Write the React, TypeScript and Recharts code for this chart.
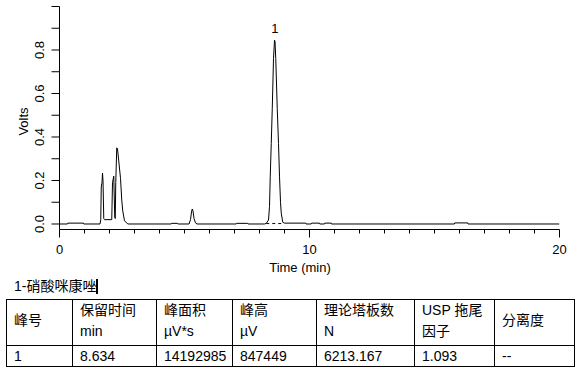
import { Line, LineChart, ReferenceDot, XAxis, YAxis } from 'recharts';

// chromatogram trace
const times = [
  0, 0.32, 0.33, 0.96, 0.97, 1.62, 1.65, 1.67, 1.7, 1.72, 1.74, 1.77, 1.8, 2.09,
  2.12, 2.17, 2.21, 2.23, 2.25, 2.29, 2.32, 2.37, 2.44, 2.49, 2.53, 2.6, 2.73,
  4.47, 4.48, 4.72, 4.73, 5.18, 5.24, 5.28, 5.31, 5.34, 5.38, 5.44, 5.5,
  7.07, 7.08, 7.53, 7.54, 8.2, 8.27, 8.36, 8.4, 8.43, 8.47, 8.51, 8.56, 8.6,
  8.62, 8.65, 8.71, 8.76, 8.8, 8.84, 8.87, 8.93, 9.0, 9.85, 9.86, 10.07, 10.08,
  10.4, 10.41, 10.6, 10.61, 10.87, 10.88, 15.8, 15.81, 16.33, 16.34, 20,
];
const volts = [
  0, 0, 0.004, 0.004, 0, 0, 0.02, 0.17, 0.19, 0.234, 0.2, 0.025, 0.02, 0.02,
  0.19, 0.22, 0.03, 0.025, 0.19, 0.35, 0.345, 0.29, 0.21, 0.11, 0.06, 0.015, 0,
  0, 0.003, 0.003, 0, 0, 0.02, 0.055, 0.069, 0.06, 0.025, 0.005, 0,
  0, 0.003, 0.003, 0, 0, 0.003, 0.018, 0.08, 0.22, 0.37, 0.53, 0.76, 0.845,
  0.84, 0.76, 0.53, 0.37, 0.22, 0.1, 0.05, 0.008, 0.004, 0.004, 0, 0, 0.004,
  0.004, 0, 0, 0.004, 0.004, 0, 0, 0.005, 0.005, 0, 0,
];

// integration baseline drawn under peak 1
const baseTimes = [8.27, 8.97];
const baseVolts = [0.002, 0.002];

const peakNames = ['1'];
const peakTimes = [8.61];
const peakHeights = [0.845];

const xTicks = [0, 1, 2, 3, 4, 5, 6, 7, 8, 9, 10, 11, 12, 13, 14, 15, 16, 17, 18, 19, 20];
const yTicks = [0, 0.1, 0.2, 0.3, 0.4, 0.5, 0.6, 0.7, 0.8, 0.9, 1.0];

const compoundTitle = '1-硝酸咪康唑';
const headerTop = ['峰号', '保留时间', '峰面积', '峰高', '理论塔板数', 'USP 拖尾', '分离度'];
const headerUnit = ['', 'min', 'µV*s', 'µV', 'N', '因子', ''];
const peakRow = ['1', '8.634', '14192985', '847449', '6213.167', '1.093', '--'];

const trace = times.map((t, i) => ({ t, v: volts[i] }));
const baseline = baseTimes.map((t, i) => ({ t, v: baseVolts[i] }));

const FONT = '"Liberation Sans", Arial, "Noto Sans CJK SC", sans-serif';

function TimeTick({ x, y, payload }: any) {
  const major = payload.value % 10 === 0;
  return (
    <g>
      <line x1={x} y1={y} x2={x} y2={y + (major ? 8 : 4)} stroke="#000" />
      {major && (
        <text x={x} y={y + 24} textAnchor="middle" fontSize={13} fill="#000">
          {payload.value}
        </text>
      )}
    </g>
  );
}

function VoltTick({ x, y, payload }: any) {
  const v = payload.value;
  const labelled = Math.round(v * 10) % 2 === 0 && v < 0.95;
  return (
    <g>
      <line x1={x - 8} y1={y} x2={x} y2={y} stroke="#000" />
      {labelled && (
        <text
          x={x - 15}
          y={y}
          textAnchor="middle"
          fontSize={13}
          fill="#000"
          transform={`rotate(-90, ${x - 15}, ${y})`}
        >
          {v.toFixed(1)}
        </text>
      )}
    </g>
  );
}

const cell: React.CSSProperties = {
  border: '1px solid #000',
  padding: '0 0 0 7px',
  fontSize: 14,
  lineHeight: '21px',
  verticalAlign: 'top',
  whiteSpace: 'nowrap',
  textAlign: 'left',
};

export default function App() {
  const colWidths = [66, 84, 76, 84, 98, 80, 80];
  return (
    <div style={{ position: 'absolute', left: 0, top: 0, width: 587, height: 379, background: '#fff', fontFamily: FONT }}>
      <LineChart
        width={587}
        height={275}
        data={trace}
        margin={{ top: 6.5, right: 27.5, bottom: 0.5, left: 0 }}
        style={{ fontFamily: FONT }}
      >
        <XAxis
          dataKey="t"
          type="number"
          domain={[0, 20]}
          ticks={xTicks}
          interval={0}
          allowDataOverflow
          height={45}
          tickSize={0}
          tickMargin={0}
          tickLine={false}
          axisLine={{ stroke: '#000' }}
          tick={<TimeTick />}
          label={{
            content: ({ viewBox }: any) => (
              <text x={viewBox.x + viewBox.width / 2 - 9.5} y={viewBox.y + 42} textAnchor="middle" fontSize={13} fill="#000">
                Time (min)
              </text>
            ),
          }}
        />
        <YAxis
          type="number"
          domain={[-0.0253, 1]}
          ticks={yTicks}
          interval={0}
          allowDataOverflow
          width={59.5}
          tickSize={0}
          tickMargin={0}
          tickLine={false}
          axisLine={{ stroke: '#000' }}
          tick={<VoltTick />}
          label={{
            content: ({ viewBox }: any) => {
              const cx = 28;
              const cy = viewBox.y + viewBox.height / 2 + 3.5;
              return (
                <text x={cx} y={cy} textAnchor="middle" fontSize={13} fill="#000" transform={`rotate(-90, ${cx}, ${cy})`}>
                  Volts
                </text>
              );
            },
          }}
        />
        <Line dataKey="v" stroke="#000" strokeWidth={1} dot={false} type="linear" isAnimationActive={false} />
        <Line
          data={baseline}
          dataKey="v"
          stroke="#000"
          strokeWidth={1}
          strokeDasharray="3 3"
          dot={false}
          type="linear"
          isAnimationActive={false}
        />
        {peakNames.map((name, i) => (
          <ReferenceDot
            key={name}
            x={peakTimes[i]}
            y={peakHeights[i]}
            r={0}
            stroke="none"
            fill="none"
            label={{ value: name, position: 'top', offset: 7, fontSize: 13, fill: '#000' }}
          />
        ))}
      </LineChart>

      <div style={{ position: 'absolute', left: 14, top: 278, fontSize: 14, lineHeight: '16px', whiteSpace: 'nowrap' }}>
        {compoundTitle}
        <span style={{ display: 'inline-block', width: 2, height: 15, background: '#000', verticalAlign: -3, marginLeft: 0 }} />
      </div>

      <table
        style={{
          position: 'absolute',
          left: 6,
          top: 299,
          borderCollapse: 'collapse',
          tableLayout: 'fixed',
          width: 569,
        }}
      >
        <colgroup>
          {colWidths.map((w, i) => (
            <col key={i} style={{ width: w }} />
          ))}
        </colgroup>
        <tbody>
          <tr style={{ height: 46 }}>
            {headerTop.map((h, i) =>
              headerUnit[i] ? (
                <td key={i} style={cell}>
                  {h}
                  <br />
                  {headerUnit[i]}
                </td>
              ) : (
                <td key={i} style={{ ...cell, paddingTop: 10 }}>
                  {h}
                </td>
              )
            )}
          </tr>
          <tr style={{ height: 21 }}>
            {peakRow.map((v, i) => (
              <td key={i} style={{ ...cell, verticalAlign: 'middle', lineHeight: '19px' }}>
                {v}
              </td>
            ))}
          </tr>
        </tbody>
      </table>
    </div>
  );
}
